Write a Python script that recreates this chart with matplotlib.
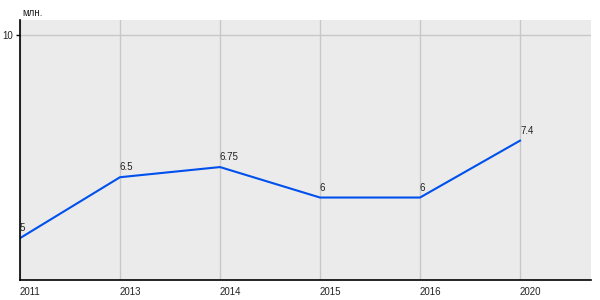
import matplotlib
matplotlib.use("Agg")
import matplotlib.pyplot as plt

years = ["2011", "2013", "2014", "2015", "2016", "2020"]
values = [5, 6.5, 6.75, 6, 6, 7.4]
value_labels = ["5", "6.5", "6.75", "6", "6", "7.4"]
unit_label = "млн."

plt.rcParams['font.family'] = ['Liberation Sans', 'DejaVu Sans']

fig = plt.figure(figsize=(6, 3), dpi=100)
ax = fig.add_axes([20/600, 1 - 280/300, 571/600, 260/300])
ax.set_facecolor('#ebebeb')

x = list(range(len(years)))
ax.plot(x, values, color='#0050ee', linewidth=1.5, solid_joinstyle='miter')
for xi, v, lab in zip(x, values, value_labels):
    ax.annotate(lab, (xi, v), xytext=(0, 3.5), textcoords='offset points',
                ha='left', va='bottom', fontsize=7, color='#222222')

ax.set_xlim(0, 5.71)
ax.set_ylim(3.97, 10.37)
ax.set_xticks(x)
ax.set_xticklabels(years, ha='left', fontsize=7, color='#222222')
ax.set_yticks([10])
ax.set_yticklabels(["10"], fontsize=7, color='#222222')
ax.tick_params(axis='x', length=0, pad=5)
ax.tick_params(axis='y', length=3, width=1, pad=2)
ax.grid(True, color='#c8c8c8', linewidth=1)
ax.set_axisbelow(True)
for s in ['top', 'right']:
    ax.spines[s].set_visible(False)
for s in ['left', 'bottom']:
    ax.spines[s].set_color('black')
    ax.spines[s].set_linewidth(1.2)

fig.text(22/600, 1 - 13/300, unit_label, fontsize=7, color='#222222', ha='left', va='center')

fig.savefig('out.png', dpi=100)
